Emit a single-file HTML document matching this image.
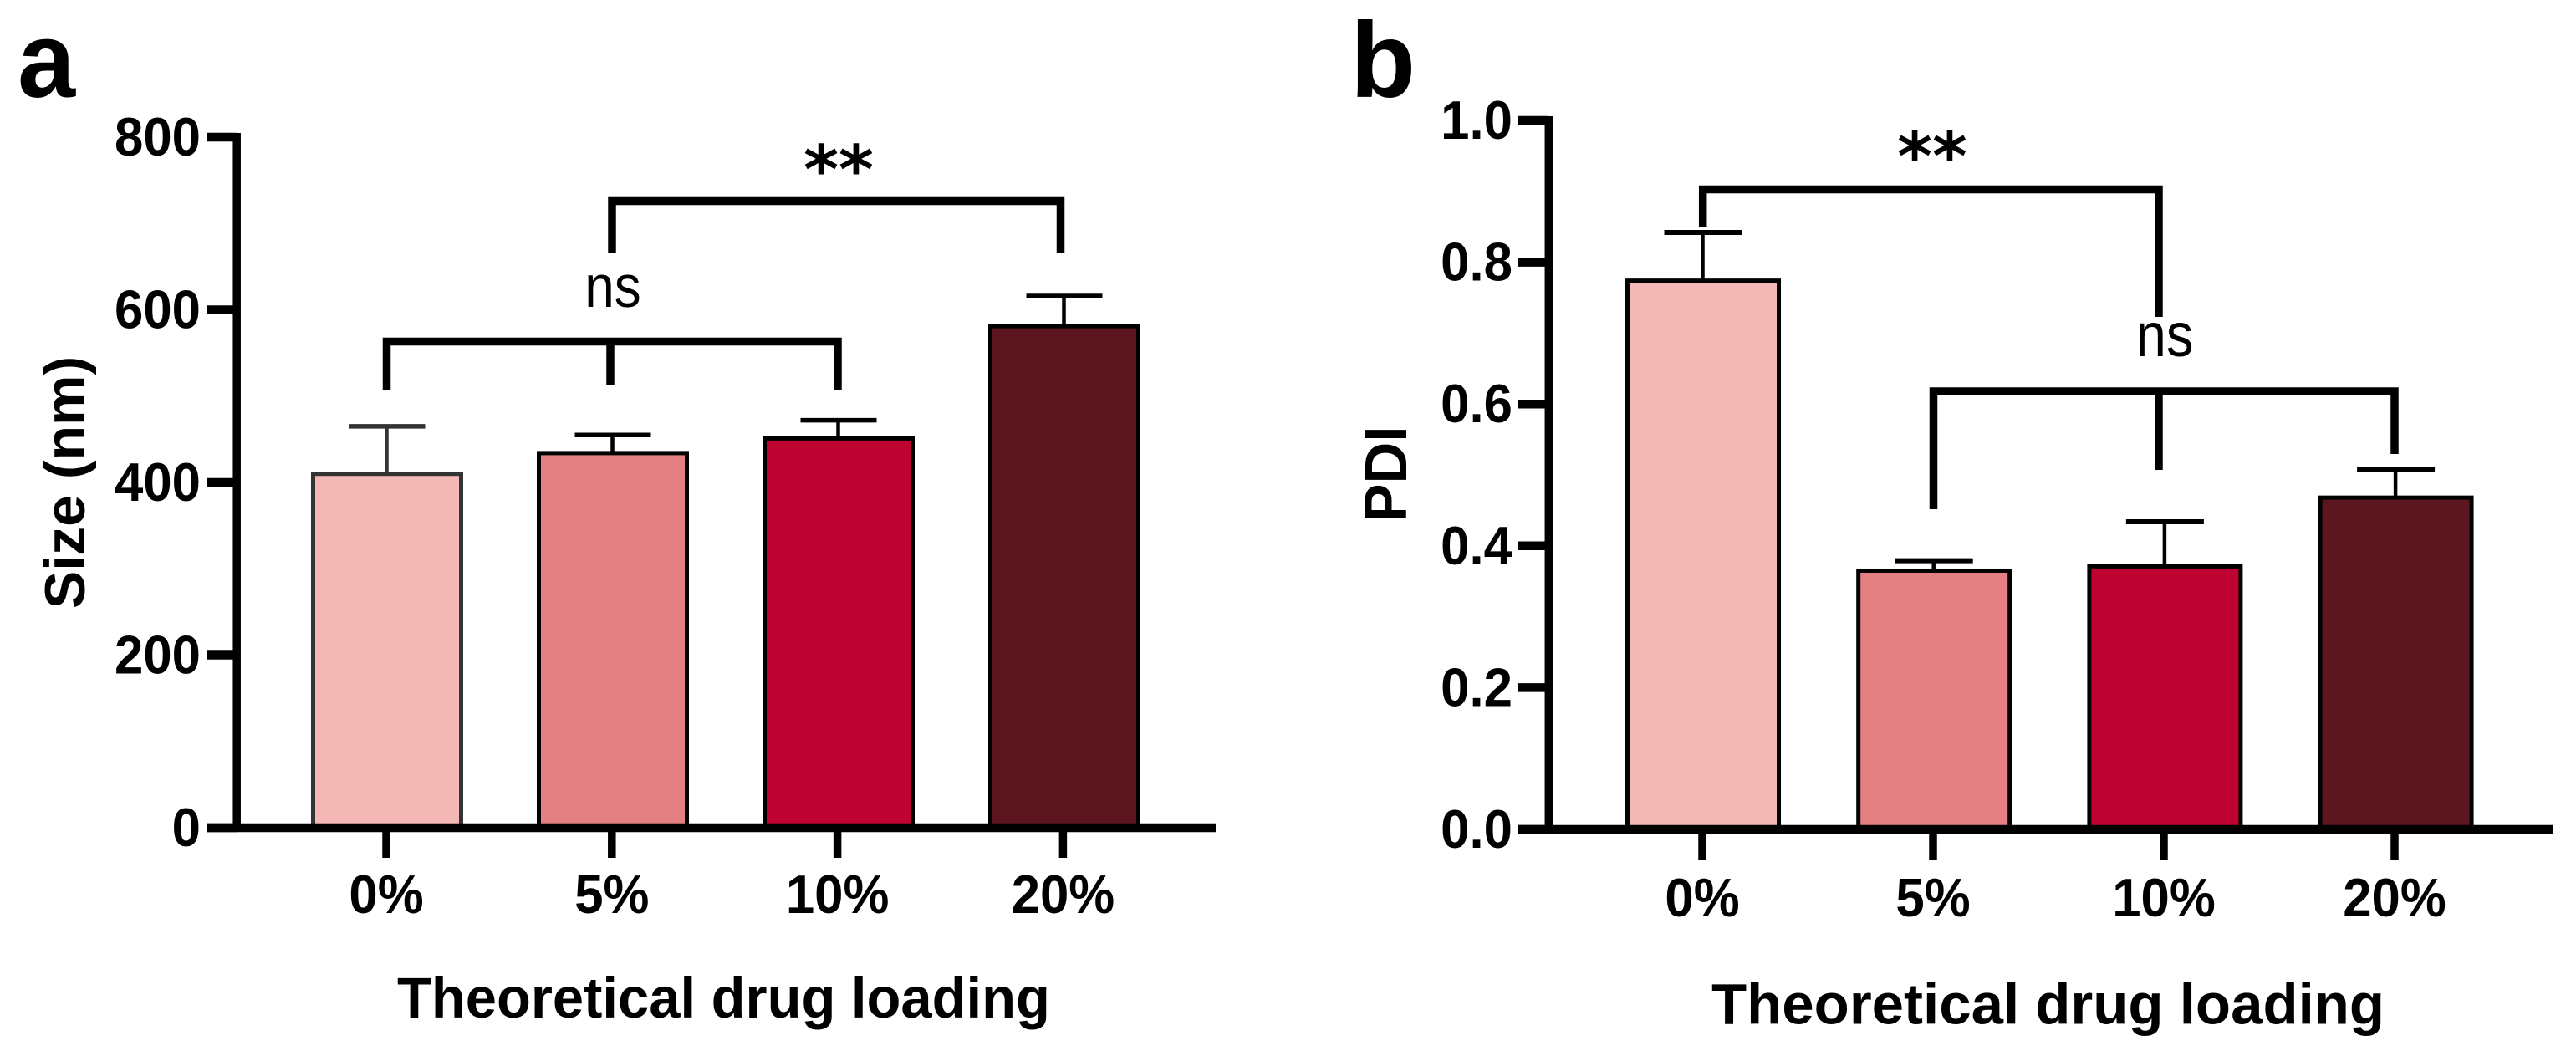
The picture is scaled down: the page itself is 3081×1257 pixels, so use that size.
<!DOCTYPE html>
<html lang="en">
<head>
<meta charset="utf-8">
<title>Size and PDI vs theoretical drug loading</title>
<style>
html,body{margin:0;padding:0;background:#fff}
body{width:3081px;height:1257px;overflow:hidden}
svg{display:block}
text{font-family:"Liberation Sans",Arial,sans-serif;fill:#000}
.b{font-weight:700}
.star{font-family:"DejaVu Sans","Liberation Sans",sans-serif;font-weight:700}
</style>
</head>
<body>
<svg id="fig" xmlns="http://www.w3.org/2000/svg" width="3081" height="1257" viewBox="0 0 3081 1257">
  <rect width="3081" height="1257" fill="#fff"/>

  <text class="b" x="0" y="0" font-size="128" transform="translate(21,116) scale(0.97,1)">a</text>
  <text class="b" x="1615" y="116" font-size="128">b</text>

  <g id="panelA"></g>
  <g id="panelB"></g>

  <text class="b" x="0" y="0" font-size="68" text-anchor="middle" transform="translate(101,577) rotate(-90)">Size (nm)</text>
  <text class="b" x="0" y="0" font-size="71" text-anchor="middle" textLength="115" lengthAdjust="spacingAndGlyphs" transform="translate(1682,567) rotate(-90)">PDI</text>
  <text class="b" x="0" y="0" font-size="69" transform="translate(475,1217) scale(0.97,1)">Theoretical drug loading</text>
  <text class="b" x="2047" y="1224.5" font-size="69">Theoretical drug loading</text>

  <g fill="none" stroke="#000" stroke-width="9.5">
    <path d="M732 303V240.5H1268.5V303"/>
    <path d="M462.5 466.5V408.5H1002V466.5M730 408.5V460"/>
  </g>
  <g fill="none" stroke="#000" stroke-width="9.5">
    <path d="M2036.7 271V226.5H2582V379"/>
    <path d="M2312.5 609V468H2864V543M2582 468V562"/>
  </g>

  <text class="star" x="1003" y="231" font-size="80" text-anchor="middle">**</text>
  <text x="0" y="0" font-size="71" text-anchor="middle" transform="translate(733,367) scale(0.9,1)">ns</text>
  <text class="star" x="2311" y="215" font-size="80" text-anchor="middle">**</text>
  <text x="0" y="0" font-size="74" text-anchor="middle" transform="translate(2589,426) scale(0.88,1)">ns</text>
</svg>

<script>
// Shared categories
const categories = ["0%", "5%", "10%", "20%"];
const barColors = ["#f3b8b5", "#e58082", "#be0231", "#5c161f"];

// Panel a: size (nm)
const sizeMeans = [410, 434, 451, 581];
const sizeErrorTops = [465, 455, 472, 616];
const sizeTickValues = [0, 200, 400, 600, 800];
const sizeTickLabels = ["0", "200", "400", "600", "800"];

// Panel b: PDI
const pdiMeans = [0.774, 0.365, 0.371, 0.468];
const pdiErrorTops = [0.842, 0.379, 0.434, 0.5075];
const pdiTickValues = [0, 0.2, 0.4, 0.6, 0.8, 1.0];
const pdiTickLabels = ["0.0", "0.2", "0.4", "0.6", "0.8", "1.0"];

const NS = "http://www.w3.org/2000/svg";

function make(parent, tag, attrs, content) {
  const el = document.createElementNS(NS, tag);
  for (const k in attrs) el.setAttribute(k, attrs[k]);
  if (content !== undefined) el.textContent = content;
  parent.appendChild(el);
  return el;
}

// Axis functions
const yA = v => 990 - v * 1.0325;
const xA = i => 463 + 270 * i;
const tickXA = i => 462 + 269.8 * i;
const yB = v => 992 - v * 848;
const xB = i => 2037 + 276.2 * i;
const tickXB = i => 2036 + 276 * i;

function drawPanel(root, cfg) {
  const base = cfg.y(0);

  // Bars
  cfg.means.forEach(function (m, i) {
    const top = cfg.y(m);
    const errTop = cfg.y(cfg.errs[i]);
    const cx = cfg.x(i);

    const stem = make(root, "line", {
      x1: cx - 0.5, x2: cx - 0.5, y1: errTop, y2: top,
      stroke: i === 0 && cfg.greyFirst ? "#333" : "#000", "stroke-width": 4.5
    });
    
    

    const cap = make(root, "line", {
      x1: cx - cfg.capHalf, x2: cx + cfg.capHalf, y1: errTop, y2: errTop,
      stroke: i === 0 && cfg.greyFirst ? "#333" : "#000", "stroke-width": cfg.capThick
    });
    
    

    const bar = make(root, "rect", {
      x: cx - cfg.barW / 2, y: top, width: cfg.barW, height: base - top,
      fill: barColors[i], stroke: i === 0 && cfg.greyFirst ? "#333" : "#000", "stroke-width": 5
    });
    
    
  });

  // Y axis line
  const yAxis = make(root, "line", {
    x1: cfg.axisX, x2: cfg.axisX, y1: cfg.y(cfg.yMax) - 5, y2: base + 5,
    stroke: "#000", "stroke-width": 9.5
  });
  
  

  // X axis line
  const xAxis = make(root, "line", {
    x1: cfg.tickLeft, x2: cfg.axisRight, y1: base, y2: base,
    stroke: "#000", "stroke-width": 10.5
  });
  
  

  // Y ticks + labels
  cfg.tickValues.forEach(function (v, i) {
    const yy = cfg.y(v);
    const t = make(root, "line", {
      x1: cfg.tickLeft, x2: cfg.axisX, y1: yy, y2: yy, stroke: "#000", "stroke-width": 10.5
    });
    
    

    const lab = make(root, "text", {
      class: "b", x: 0, y: 0, "font-size": 65, "text-anchor": "end",
      transform: "translate(" + cfg.labelRight + "," + (yy + 22) + ") scale(0.95,1)"
    }, cfg.tickLabels[i]);
    
    
  });

  // X ticks + labels
  categories.forEach(function (c, i) {
    const tx = cfg.tickX(i);
    const t = make(root, "line", {
      x1: tx, x2: tx, y1: base, y2: cfg.xTickEnd, stroke: "#000", "stroke-width": 9.5
    });
    
    

    const lab = make(root, "text", {
      class: "b", x: 0, y: 0, "font-size": 65, "text-anchor": "middle",
      transform: "translate(" + tx + "," + cfg.xLabelY + ") scale(0.95,1)"
    }, c);
    
    
  });
}

drawPanel(document.getElementById("panelA"), {
  means: sizeMeans, errs: sizeErrorTops, tickValues: sizeTickValues, tickLabels: sizeTickLabels,
  y: yA, x: xA, tickX: tickXA, yMax: 800,
  barW: 177, capHalf: 45.5, capThick: 5.5, greyFirst: true,
  axisX: 283.2, tickLeft: 247, axisRight: 1454,
  labelRight: 240, xTickEnd: 1026, xLabelY: 1092
});

drawPanel(document.getElementById("panelB"), {
  means: pdiMeans, errs: pdiErrorTops, tickValues: pdiTickValues, tickLabels: pdiTickLabels,
  y: yB, x: xB, tickX: tickXB, yMax: 1,
  barW: 181, capHalf: 46.5, capThick: 6, greyFirst: false,
  axisX: 1852.3, tickLeft: 1816, axisRight: 3054,
  labelRight: 1809, xTickEnd: 1029, xLabelY: 1096
});
</script>
</body>
</html>
